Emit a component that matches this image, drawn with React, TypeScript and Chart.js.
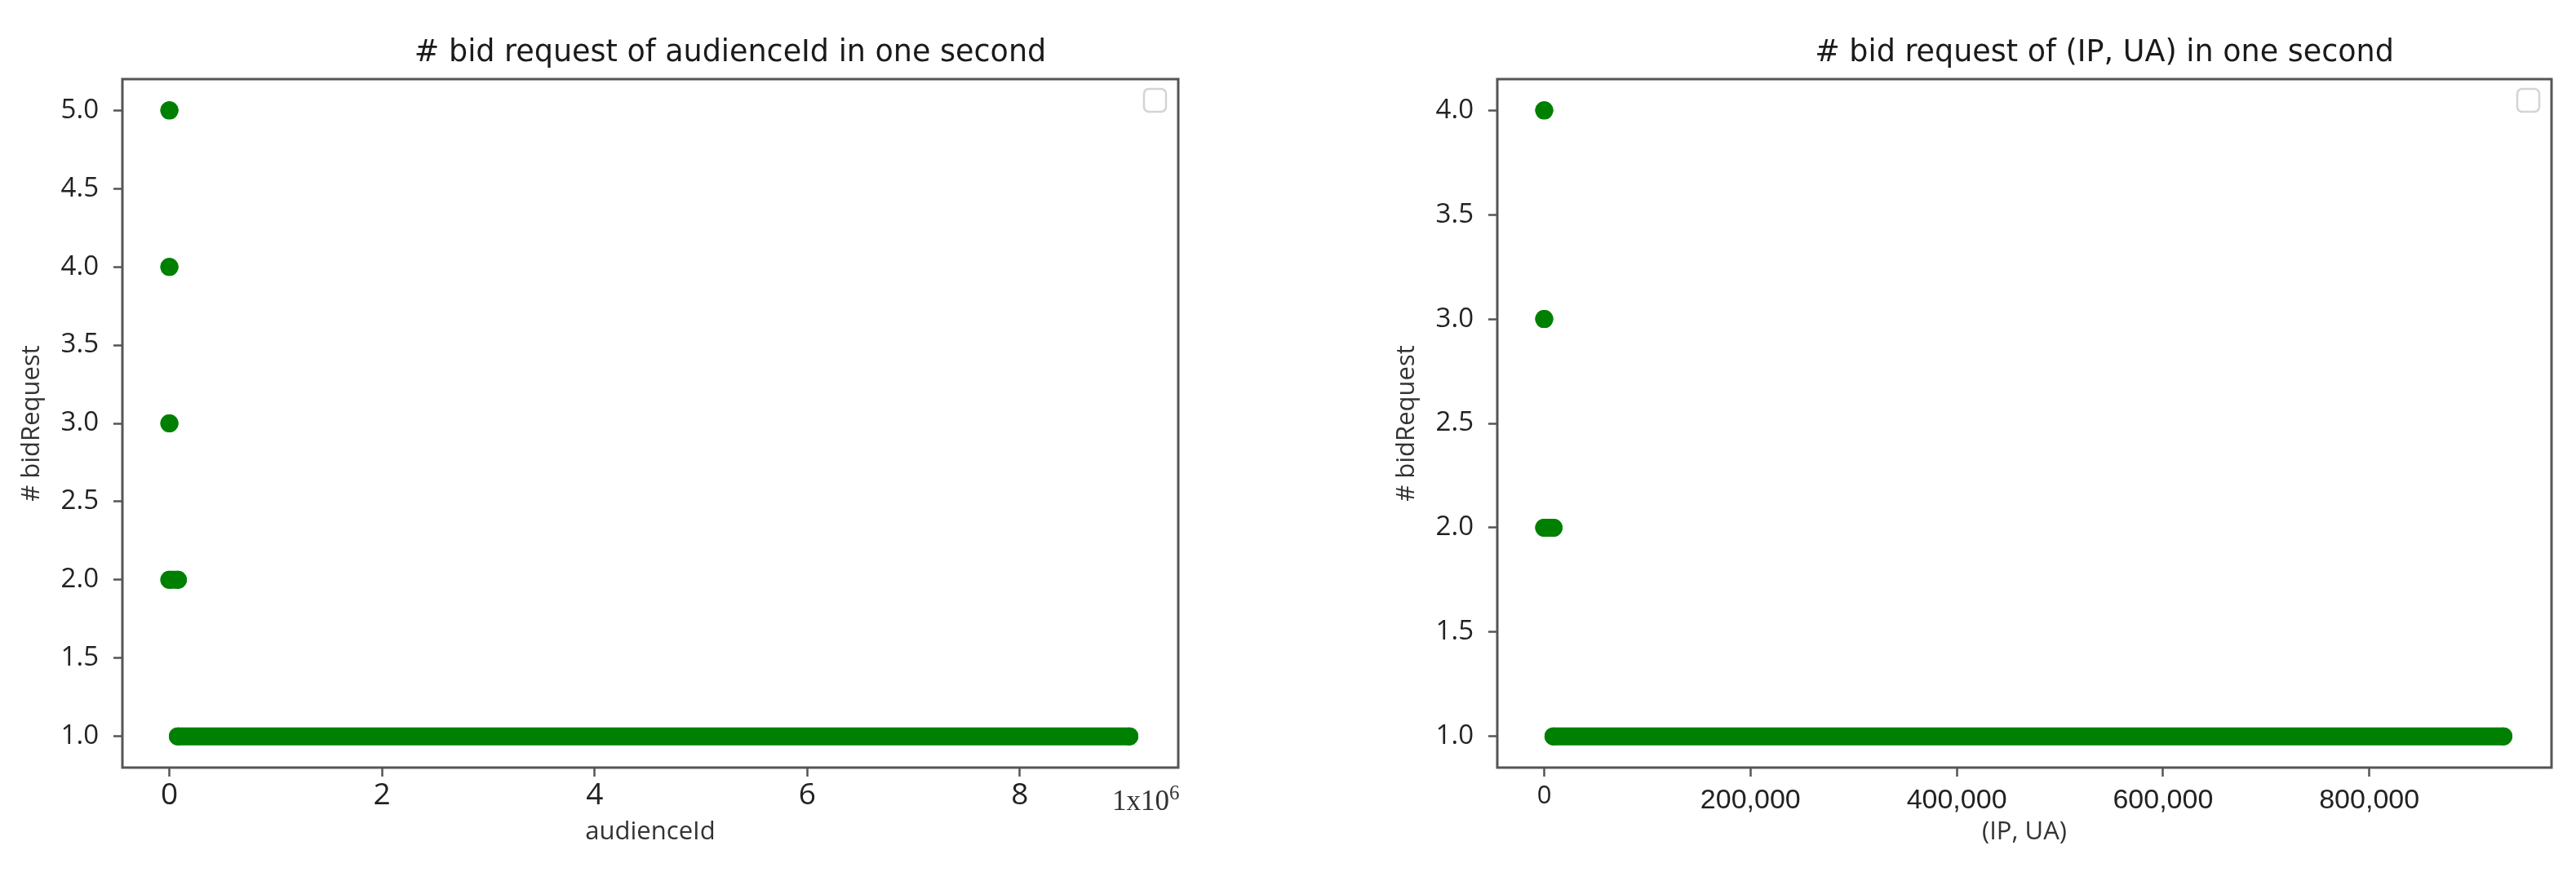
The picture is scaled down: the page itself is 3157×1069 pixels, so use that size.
import React, { useEffect, useRef } from "react";
import { Chart, registerables } from "chart.js";

Chart.register(...registerables);

// ---------------- data ----------------
// Left panel: # bid requests per audienceId in one second
// Each list holds the audienceId extent of the (dense) points at that count.
const audienceIdCount5 = [0];
const audienceIdCount4 = [0];
const audienceIdCount3 = [0];
const audienceIdCount2 = [0, 80000];
const audienceIdCount1 = [80000, 9030000];
const audienceCounts = [5, 4, 3, 2, 1];
const audienceYTicks = [1, 1.5, 2, 2.5, 3, 3.5, 4, 4.5, 5];
const audienceXTicks = [0, 2000000, 4000000, 6000000, 8000000];
const audienceXRange = [-442000, 9490000];
const audienceYRange = [0.8, 5.2];

// Right panel: # bid requests per (IP, UA) in one second
const ipUaCount4 = [0];
const ipUaCount3 = [0];
const ipUaCount2 = [0, 9000];
const ipUaCount1 = [9000, 930000];
const ipUaCounts = [4, 3, 2, 1];
const ipUaYTicks = [1, 1.5, 2, 2.5, 3, 3.5, 4];
const ipUaXTicks = [0, 200000, 400000, 600000, 800000];
const ipUaXRange = [-45500, 976700];
const ipUaYRange = [0.85, 4.15];

// ---------------- styling ----------------
const H = 1069;
const GREEN = "#008000";
const FRAME = "#555555";
const TEXT = "#222222";

const pts = (xs: number[], y: number) => xs.map((x) => ({ x, y }));

type Spec = {
  title: string;
  xTitle: string;
  yTitle: string;
  series: { x: number; y: number }[][];
  xRange: number[];
  yRange: number[];
  xTicks: number[];
  yTicks: number[];
  xFormat: (v: number) => string;
  xTickFont: (ctx: any) => any;
  padLeft: number;
  padRight: number;
  offsetText?: [string, string];
};

const decorPlugin = (spec: Spec) => ({
  id: "decor",
  afterDraw(chart: any) {
    const { ctx, chartArea: a } = chart;
    ctx.save();
    // axes frame
    ctx.strokeStyle = FRAME;
    ctx.lineWidth = 3;
    ctx.strokeRect(a.left, a.top, a.right - a.left, a.bottom - a.top);
    // empty legend box
    ctx.strokeStyle = "#d4d4d4";
    ctx.lineWidth = 2.5;
    ctx.beginPath();
    (ctx as any).roundRect(a.right - 42, a.top + 12, 27, 28, 6);
    ctx.stroke();
    // title
    ctx.fillStyle = "#1a1a1a";
    ctx.font = '36.5px "DejaVu Sans"';
    ctx.textAlign = "center";
    ctx.textBaseline = "alphabetic";
    ctx.fillText(spec.title, (a.left + a.right) / 2 + 98, a.top - 22);
    // scale offset text
    if (spec.offsetText) {
      ctx.fillStyle = "#333333";
      ctx.textAlign = "left";
      ctx.font = '35px "Liberation Serif"';
      const x0 = a.right - 81;
      ctx.fillText(spec.offsetText[0], x0, a.bottom + 52);
      const w = ctx.measureText(spec.offsetText[0]).width;
      ctx.font = '25px "Liberation Serif"';
      ctx.fillText(spec.offsetText[1], x0 + w, a.bottom + 39);
    }
    ctx.restore();
  },
});

function buildConfig(spec: Spec): any {
  const tickGrid = {
    display: true,
    drawOnChartArea: false,
    drawTicks: true,
    tickLength: 11,
    tickWidth: 2.5,
    tickColor: FRAME,
  };
  const axisTitleFont = { family: "'Open Sans', sans-serif", size: 31, lineHeight: 1.2 };
  return {
    type: "scatter",
    data: {
      datasets: spec.series.map((data) => ({
        data,
        backgroundColor: GREEN,
        borderColor: GREEN,
        pointRadius: 11,
        pointBorderWidth: 0,
        showLine: true,
        borderWidth: 22,
        borderCapStyle: "round",
      })),
    },
    options: {
      responsive: false,
      devicePixelRatio: 1,
      animation: false,
      events: [],
      layout: { padding: { left: spec.padLeft, right: spec.padRight, top: 97, bottom: 0 } },
      plugins: {
        legend: { display: false },
        title: { display: false },
        tooltip: { enabled: false },
      },
      scales: {
        x: {
          type: "linear",
          min: spec.xRange[0],
          max: spec.xRange[1],
          afterFit: (s: any) => {
            s.height = 128;
          },
          afterBuildTicks: (s: any) => {
            s.ticks = spec.xTicks.map((v) => ({ value: v }));
          },
          grid: tickGrid,
          border: { display: false },
          ticks: {
            padding: 4.5,
            maxRotation: 0,
            autoSkip: false,
            color: TEXT,
            font: spec.xTickFont,
            callback: (v: any) => spec.xFormat(Number(v)),
          },
          title: {
            display: true,
            text: spec.xTitle,
            color: "#333333",
            font: axisTitleFont,
            padding: { top: 0, bottom: 30 },
          },
        },
        y: {
          type: "linear",
          min: spec.yRange[0],
          max: spec.yRange[1],
          afterFit: (s: any) => {
            s.width = 150;
          },
          afterBuildTicks: (s: any) => {
            s.ticks = spec.yTicks.map((v) => ({ value: v }));
          },
          grid: tickGrid,
          border: { display: false },
          ticks: {
            padding: 18,
            autoSkip: false,
            color: TEXT,
            font: { family: "'Open Sans', sans-serif", size: 33, lineHeight: 1 },
            callback: (v: any) => Number(v).toFixed(1),
          },
          title: {
            display: true,
            text: spec.yTitle,
            color: "#333333",
            font: axisTitleFont,
            padding: { top: 21, bottom: 0 },
          },
        },
      },
    },
    plugins: [decorPlugin(spec)],
  };
}

const leftSpec: Spec = {
  title: "# bid request of audienceId in one second",
  xTitle: "audienceId",
  yTitle: "# bidRequest",
  series: [audienceIdCount5, audienceIdCount4, audienceIdCount3, audienceIdCount2, audienceIdCount1].map(
    (xs, i) => pts(xs, audienceCounts[i])
  ),
  xRange: audienceXRange,
  yRange: audienceYRange,
  xTicks: audienceXTicks,
  yTicks: audienceYTicks,
  xFormat: (v) => String(v / 1000000),
  xTickFont: () => ({ family: "'Open Sans', sans-serif", size: 37, lineHeight: 1 }),
  padLeft: 0,
  padRight: 146,
  offsetText: ["1x10", "6"],
};

const rightSpec: Spec = {
  title: "# bid request of (IP, UA) in one second",
  xTitle: "(IP, UA)",
  yTitle: "# bidRequest",
  series: [ipUaCount4, ipUaCount3, ipUaCount2, ipUaCount1].map((xs, i) => pts(xs, ipUaCounts[i])),
  xRange: ipUaXRange,
  yRange: ipUaYRange,
  xTicks: ipUaXTicks,
  yTicks: ipUaYTicks,
  xFormat: (v) => v.toLocaleString("en-US"),
  xTickFont: (ctx: any) =>
    ctx && ctx.tick && ctx.tick.value === 0
      ? { family: "'Open Sans', sans-serif", size: 31, lineHeight: 1.3 }
      : { family: "'Liberation Sans', sans-serif", size: 34, lineHeight: 1.45 },
  padLeft: 95,
  padRight: 30,
};

function Panel({ spec, left, width }: { spec: Spec; left: number; width: number }) {
  const ref = useRef<HTMLCanvasElement>(null);
  useEffect(() => {
    const chart = new Chart(ref.current as HTMLCanvasElement, buildConfig(spec));
    return () => chart.destroy();
  }, [spec]);
  return (
    <canvas
      ref={ref}
      width={width}
      height={H}
      style={{ position: "absolute", left, top: 0, width, height: H }}
    />
  );
}

export default function App() {
  return (
    <div
      style={{
        position: "absolute",
        left: 0,
        top: 0,
        width: 3157,
        height: H,
        background: "#ffffff",
        overflow: "hidden",
      }}
    >
      <Panel spec={leftSpec} left={0} width={1590} />
      <Panel spec={rightSpec} left={1590} width={1567} />
    </div>
  );
}
